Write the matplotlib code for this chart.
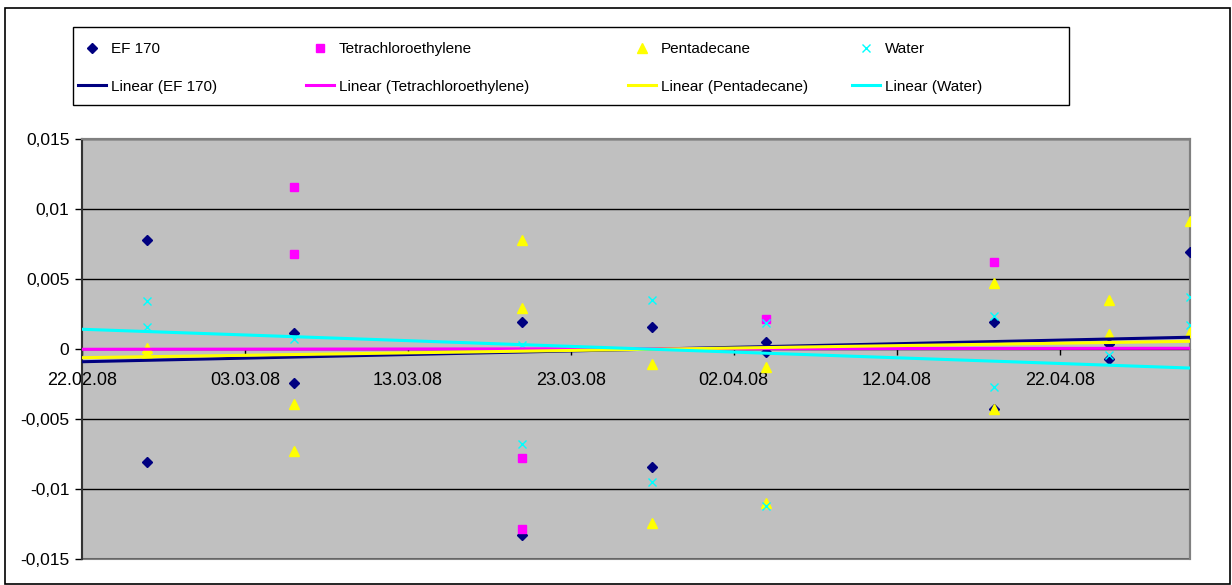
import numpy as np
import matplotlib
matplotlib.use('Agg')
import matplotlib.pyplot as plt
import matplotlib.dates as mdates
from matplotlib.patches import Rectangle
from matplotlib.lines import Line2D
from datetime import datetime

plt.rcParams['font.family'] = ['Liberation Sans', 'DejaVu Sans']

# measurement dates (two readings per series and date)
dates = ['26.02.08', '06.03.08', '20.03.08', '28.03.08',
         '04.04.08', '18.04.08', '25.04.08', '30.04.08']
nan = np.nan

ef_a = [0.0078, 0.00116, 0.0019, 0.0016, 0.00048, 0.0019, 0.00034, 0.00695]
ef_b = [-0.0081, -0.00245, -0.0133, -0.0084, -0.0002, -0.0043, -0.00074, nan]

tet_a = [nan, 0.0116, -0.0078, nan, 0.00212, 0.00624, nan, nan]
tet_b = [nan, 0.00676, -0.01286, nan, nan, nan, nan, nan]

pen_a = [0.0001, -0.00395, 0.00779, -0.0011, -0.0013, 0.00474, 0.0035, 0.00917]
pen_b = [-0.0003, -0.00729, 0.0029, -0.0124, -0.011, -0.0043, 0.00107, 0.00124]

wat_a = [0.00343, 0.0007, 0.0003, 0.00352, 0.00183, 0.00236, -0.00043, 0.00374]
wat_b = [0.00157, nan, -0.0068, -0.00952, -0.0112, -0.00274, nan, 0.0017]

# linear trend values at the start and end of the date axis
trend_dates = ['22.02.08', '30.04.08']
trend_ef = [-0.00091, 0.00084]
trend_tet = [-0.00002, 0.00005]
trend_pen = [-0.00062, 0.00055]
trend_wat = [0.00141, -0.00136]

xtick_dates = ['22.02.08', '03.03.08', '13.03.08', '23.03.08',
               '02.04.08', '12.04.08', '22.04.08']
yticks = [-0.015, -0.01, -0.005, 0, 0.005, 0.01, 0.015]
ytick_labels = ['-0,015', '-0,01', '-0,005', '0', '0,005', '0,01', '0,015']

names = ['EF 170', 'Tetrachloroethylene', 'Pentadecane', 'Water']


def d(s):
    return datetime.strptime(s, '%d.%m.%y')


x = [d(s) for s in dates]
xt = [d(s) for s in trend_dates]

W, H = 1232, 585
fig = plt.figure(figsize=(W / 100, H / 100), dpi=100)
ax = fig.add_axes([82 / W, 1 - 559 / H, (1190 - 82) / W, (559 - 139) / H])
ax.set_facecolor('#C0C0C0')

styles = [
    dict(marker='D', color='#000080', ms=5.5, ls='none'),
    dict(marker='s', color='#FF00FF', ms=6, ls='none'),
    dict(marker='^', color='#FFFF00', ms=7.5, ls='none'),
    dict(marker='x', color='#00FFFF', ms=5.5, mew=1, ls='none'),
]
line_cols = ['#000080', '#FF00FF', '#FFFF00', '#00FFFF']

series = [(ef_a, ef_b), (tet_a, tet_b), (pen_a, pen_b), (wat_a, wat_b)]
for (a, b), st in zip(series, styles):
    ax.plot(x, a, zorder=3, **st)
    ax.plot(x, b, zorder=3, **st)

for tr, c in zip([trend_ef, trend_tet, trend_pen, trend_wat], line_cols):
    ax.plot(xt, tr, color=c, lw=2.2, zorder=4, solid_capstyle='butt')

ax.set_xlim(d('22.02.08'), d('30.04.08'))
ax.set_ylim(-0.015, 0.015)
ax.set_yticks(yticks)
ax.set_yticklabels(ytick_labels)
ax.set_xticks([d(s) for s in xtick_dates])
ax.xaxis.set_major_formatter(mdates.DateFormatter('%d.%m.%y'))

ax.grid(axis='y', color='black', lw=1, zorder=1)
ax.set_axisbelow(True)

ax.spines['bottom'].set_position(('data', 0))
ax.spines['bottom'].set_color('black')
ax.spines['bottom'].set_zorder(2)
ax.spines['left'].set_color('#333333')
ax.spines['left'].set_linewidth(1.5)
for s in ['top', 'right']:
    ax.spines[s].set_color('#808080')
    ax.spines[s].set_linewidth(1.5)
ax.add_patch(Rectangle((0, 0), 1, 1, transform=ax.transAxes, fill=False,
                       ec='#808080', lw=1.5, zorder=0.5, clip_on=False))

ax.tick_params(axis='x', direction='out', length=4, width=1, pad=12.5,
               labelsize=13, colors='black')
ax.tick_params(axis='y', direction='out', length=5, width=1, pad=4,
               labelsize=12.5, colors='black')

# legend: 4 columns, markers on top row, trend lines on bottom row
col_x = [78, 306, 628, 852]
fs = 11
for i in range(4):
    h1 = Line2D([], [], **styles[i])
    h2 = Line2D([], [], color=line_cols[i], lw=2.2)
    fig.legend([h1, h2], [names[i], 'Linear (%s)' % names[i]],
               loc='upper left', bbox_to_anchor=(col_x[i] / W, 1 - 42 / H),
               frameon=False, fontsize=fs, borderpad=0, borderaxespad=0,
               handlelength=28 / (fs * 1.389), handletextpad=0.3,
               labelspacing=1.55)

fig.add_artist(Rectangle((73 / W, 1 - 105 / H), (1069 - 73) / W, 78 / H,
                         transform=fig.transFigure, fill=False,
                         ec='black', lw=1))
fig.add_artist(Rectangle((5 / W, 1 / H), (W - 7) / W, (H - 9) / H,
                         transform=fig.transFigure, fill=False,
                         ec='black', lw=1.2))

fig.savefig('out.png', dpi=100)
